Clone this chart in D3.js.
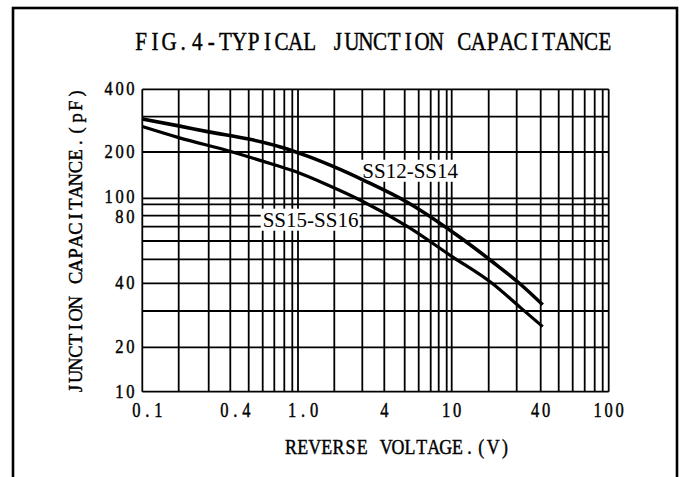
<!DOCTYPE html>
<html lang="en">
<head>
    <title>Typical Junction Capacitance</title>
    <script src="https://d3js.org/d3.v7.min.js"></script>
    <style>
        body { margin: 0; background: #fff; }
        svg text { fill: #000; }
    </style>
</head>
<body>
    <svg id="chart"></svg>

    <script>
        var width = 684;
        var height = 477;

        // grid values on each axis (the sheet's grid is not a true log grid)
        var xGridValues = [0.1, 0.2, 0.3, 0.4, 0.5, 0.6, 0.7, 0.8, 0.9, 1,
                           2, 3, 4, 5, 6, 7, 8, 9, 10,
                           20, 30, 40, 50, 60, 70, 80, 90, 100];
        var yGridValues = [10, 20, 30, 40, 50, 60, 70, 80, 90, 100, 200, 300, 400];

        var xTickValues = [0.1, 0.4, 1, 4, 10, 40, 100];
        var xTickLabels = ["0.1", "0.4", "1.0", "4", "10", "40", "100"];
        var yTickValues = [400, 200, 100, 80, 40, 20, 10];
        var yTickLabels = ["400", "200", "100", "80", "40", "20", "10"];

        // reverse voltage (V) and capacitance (pF)
        var ss1214Voltage = [0.1, 0.2, 0.3, 0.5, 0.76, 1.2, 2, 3.1, 5.2, 11, 21, 31.5, 41];
        var ss1214Cap     = [292, 270, 252, 232, 212, 188, 160, 130, 93, 64, 49, 39.5, 32];
        var ss1516Voltage = [0.1, 0.2, 0.41, 0.7, 1.0, 1.8, 2.9, 5.2, 10, 21, 31.5, 41];
        var ss1516Cap     = [268, 236, 200, 165, 147, 121, 97, 70, 51.5, 40, 31, 25.2];

        var seriesNames = ["SS12-SS14", "SS15-SS16"];
        var labelAt = [{x: 3.0, y: 136}, {x: 0.6, y: 70}];

        // pixel calibration of the printed grid
        var xGridPx = [142.3, 178.7, 208.7, 230.3, 248.7, 262.7, 274.3, 284.3, 292.3, 298,
                       334.3, 362.3, 384.3, 404.7, 418.7, 430.7, 438.7, 446.7, 451.7,
                       488.7, 516.7, 540.7, 558.7, 572.7, 584.7, 594.7, 602.7, 608.7];
        var yGridPx = [391.7, 347.3, 311, 283.3, 259.3, 241, 226.7, 215.7, 204.3, 198.3, 152, 116.7, 89.3];

        var xscale = d3.scaleLog().domain(xGridValues).range(xGridPx);
        var yscale = d3.scaleLog().domain(yGridValues).range(yGridPx);

        var svg = d3.select("#chart")
            .attr("width", width)
            .attr("height", height);

        var SERIF = "'Liberation Serif', 'DejaVu Serif', serif";
        var CAP = 0.655;  // cap height / em of Liberation Serif

        // fixed-pitch label: one glyph per cell, squeezed like the sheet's font
        function monoText(g, str, cx, baseY, charW, capH, rotate) {
            var fs = capH / CAP;
            var sx = charW * 0.9 / (0.6 * fs);
            if (sx > 1) sx = 1;
            var chars = str.split("");
            var start = -chars.length * charW / 2;
            var t = g.append("text")
                .attr("font-family", SERIF)
                .attr("font-size", fs)
                .attr("text-anchor", "middle")
                .attr("stroke", "#000")
                .attr("stroke-width", 0.45)
                .attr("transform", "translate(" + cx + "," + baseY + ")" +
                    (rotate ? " rotate(" + rotate + ")" : "") + " scale(" + sx + ",1)");
            t.selectAll("tspan")
                .data(chars)
                .enter().append("tspan")
                .attr("x", function (d, i) { return (start + (i + 0.5) * charW) / sx; })
                .attr("y", 0)
                .text(function (d) { return d; });
            return t;
        }

        // outer frame
        svg.append("rect")
            .attr("x", 13).attr("y", 8)
            .attr("width", 664).attr("height", 500)
            .attr("fill", "none")
            .attr("stroke", "#000")
            .attr("stroke-width", 2.6);

        // grid
        var grid = svg.append("g");
        var x0 = xscale(0.1), x1 = xscale(100);
        var y0 = yscale(10), y1 = yscale(400);

        grid.selectAll("line.v")
            .data(xGridValues)
            .enter().append("line")
            .attr("class", "v")
            .attr("x1", function (d) { return xscale(d); })
            .attr("x2", function (d) { return xscale(d); })
            .attr("y1", y1).attr("y2", y0)
            .attr("stroke", "#000").attr("stroke-width", 1.8);

        grid.selectAll("line.h")
            .data(yGridValues)
            .enter().append("line")
            .attr("class", "h")
            .attr("x1", x0).attr("x2", x1)
            .attr("y1", function (d) { return yscale(d); })
            .attr("y2", function (d) { return yscale(d); })
            .attr("stroke", "#000").attr("stroke-width", 1.8);

        // curve labels on white boxes (they blank out the grid, not the curves)
        var labels = svg.selectAll("g.lab")
            .data(seriesNames)
            .enter().append("g")
            .attr("class", "lab");

        labels.append("rect")
            .attr("x", function (d, i) { return xscale(labelAt[i].x) - 2; })
            .attr("y", function (d, i) { return yscale(labelAt[i].y) - 18; })
            .attr("width", 99)
            .attr("height", 22)
            .attr("fill", "#fff");

        labels.append("text")
            .attr("x", function (d, i) { return xscale(labelAt[i].x); })
            .attr("y", function (d, i) { return yscale(labelAt[i].y); })
            .attr("font-family", SERIF)
            .attr("font-size", 21)
            .text(function (d) { return d; });

        // curves
        var line = d3.line()
            .x(function (d) { return xscale(d[0]); })
            .y(function (d) { return yscale(d[1]); })
            .curve(d3.curveMonotoneX);

        var curves = [
            d3.zip(ss1214Voltage, ss1214Cap),
            d3.zip(ss1516Voltage, ss1516Cap)
        ];

        svg.selectAll("path.curve")
            .data(curves)
            .enter().append("path")
            .attr("class", "curve")
            .attr("d", line)
            .attr("fill", "none")
            .attr("stroke", "#000")
            .attr("stroke-width", function (d, i) { return i === 0 ? 3.6 : 3.2; });

        // tick labels; the crowded 100/80 pair is nudged apart
        var ticks = svg.append("g");
        var yBase = yTickValues.map(function (v) { return yscale(v) + 6; });
        for (var i = 1; i < yBase.length; i++) {
            var gap = yBase[i] - yBase[i - 1];
            if (gap < 20.5) {
                yBase[i - 1] -= (20.5 - gap) / 2;
                yBase[i] += (20.5 - gap) / 2;
            }
        }
        yTickValues.forEach(function (v, i) {
            var n = yTickLabels[i].length;
            monoText(ticks, yTickLabels[i], 136 - n * 11 / 2, yBase[i], 11, 12.5);
        });
        xTickValues.forEach(function (v, i) {
            var dx = xTickLabels[i].indexOf(".") >= 0 ? 5 : 0;
            monoText(ticks, xTickLabels[i], xscale(v) + dx, 416.5, 11, 13.5);
        });

        // titles
        monoText(svg, "FIG.4-TYPICAL JUNCTION CAPACITANCE", 373, 50, 14.06, 17);
        monoText(svg, "REVERSE VOLTAGE.(V)", 398, 454, 11.9, 14);
        monoText(svg, "JUNCTION CAPACITANCE.(pF)", 82, 241, 12.3, 13, -90);
    </script>
</body>
</html>
